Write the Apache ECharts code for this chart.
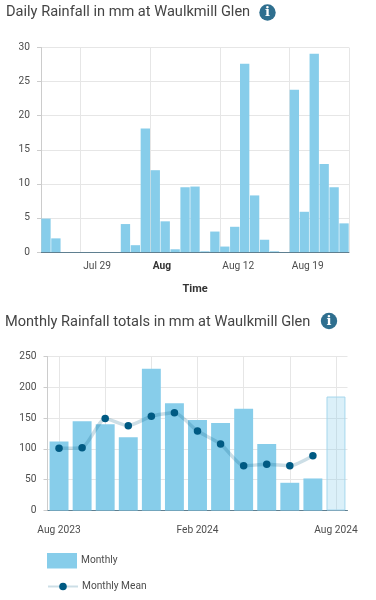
<!DOCTYPE html>
<html>
<head>
<meta charset="utf-8">
<style>
  html, body { margin: 0; padding: 0; background: #fff; }
  #main { width: 376px; height: 600px; }
</style>
<script src="https://cdn.jsdelivr.net/npm/echarts@6/dist/echarts.min.js"></script>
</head>
<body>
<div id="main"></div>
<script>
  const days = ['Jul 25','Jul 26','Jul 27','Jul 28','Jul 29','Jul 30','Jul 31','Aug 1','Aug 2','Aug 3','Aug 4',
    'Aug 5','Aug 6','Aug 7','Aug 8','Aug 9','Aug 10','Aug 11','Aug 12','Aug 13','Aug 14','Aug 15','Aug 16',
    'Aug 17','Aug 18','Aug 19','Aug 20','Aug 21','Aug 22','Aug 23','Aug 24'];
  const dailyValues = [4.9,2.0,0,0,0,0,0,0,4.1,1.0,18.1,12.0,4.5,0.4,9.5,9.6,0.1,3.0,0.8,3.7,27.6,8.3,1.8,0.1,0,
    23.8,5.9,29.1,12.9,9.5,4.2];
  const dailyTicks = {'Jul 29':'Jul 29','Aug 5':'{b|Aug}','Aug 12':'Aug 12','Aug 19':'Aug 19'};

  const months = ['Aug 2023','Sep 2023','Oct 2023','Nov 2023','Dec 2023','Jan 2024','Feb 2024','Mar 2024',
    'Apr 2024','May 2024','Jun 2024','Jul 2024','Aug 2024'];
  const monthlyValues = [112,145,140,119,230,174,147,142,165,108,45,52,185];
  const monthlyMean = [101,102,149.5,137.5,153,158.5,129,108,72.5,75,72.5,89,null];
  const monthlyTicks = ['Aug 2023','Feb 2024','Aug 2024'];
  const monthGridPositions = [0,2,4,6,8,10,12];

  const font = 'Roboto';
  const labelSize = 10.2;
  const textColor = '#4d4d4d';
  const gridColor = '#e6e6e6';
  const baseColor = '#5f7f90';
  const barColor = '#87cdea';

  function infoIcon(cx, cy) {
    return [
      {type: 'circle', shape: {cx: cx, cy: cy, r: 8.2}, style: {fill: '#2f6f8f'}},
      {type: 'text', x: cx, y: cy + 0.5, style: {text: 'i', fill: '#fff', font: 'bold 13px "DejaVu Serif"', align: 'center', verticalAlign: 'middle'}}
    ];
  }

  let myChart = echarts.init(document.getElementById('main'));
  myChart.setOption({
    animation: false,
    backgroundColor: '#fff',
    title: [
      {text: 'Daily Rainfall in mm at Waulkmill Glen', left: 6, top: 5, padding: 0, textStyle: {fontFamily: font, fontSize: 14.6, fontWeight: 'normal', color: '#444'}},
      {text: 'Monthly Rainfall totals in mm at Waulkmill Glen', left: 5, top: 314.5, padding: 0, textStyle: {fontFamily: font, fontSize: 14.6, fontWeight: 'normal', color: '#444'}}
    ],
    graphic: infoIcon(267.5, 12.5).concat(infoIcon(329, 321)),
    legend: [
      {
        orient: 'vertical', left: 47, top: 553, padding: 0,
        itemWidth: 30, itemHeight: 15.5, icon: 'rect',
        data: ['Monthly'],
        textStyle: {fontFamily: font, fontSize: labelSize, color: textColor, padding: [6, 0, 0, -1]}
      },
      {
        orient: 'vertical', left: 47, top: 581.5, padding: 0,
        itemWidth: 30, itemHeight: 9.5,
        data: ['Monthly Mean'],
        textStyle: {fontFamily: font, fontSize: labelSize, color: textColor, padding: [6, 0, 0, -1]}
      }
    ],
    grid: [
      {left: 41, right: 27, top: 47.5, height: 204.5},
      {left: 47.5, right: 28.5, top: 356.5, height: 154}
    ],
    xAxis: [
      {
        type: 'category', gridIndex: 0, data: days,
        name: 'Time', nameLocation: 'middle', nameGap: 32,
        nameTextStyle: {fontFamily: font, fontSize: 11, fontWeight: 'bold', color: '#333'},
        axisLine: {lineStyle: {color: baseColor}},
        axisTick: {length: 4, lineStyle: {color: '#aaa'}, interval: (i, v) => v in dailyTicks},
        splitLine: {show: true, lineStyle: {color: gridColor}, interval: (i, v) => v in dailyTicks},
        axisLabel: {
          margin: 9, fontFamily: font, fontSize: labelSize, color: textColor, align: 'left', padding: [0, 0, 0, -2.5],
          interval: (i, v) => v in dailyTicks,
          formatter: v => dailyTicks[v] || '',
          rich: {b: {fontFamily: font, fontSize: labelSize, fontWeight: 'bold', color: '#333'}}
        }
      },
      {
        type: 'category', gridIndex: 1, data: months,
        axisLine: {lineStyle: {color: baseColor}},
        axisTick: {alignWithLabel: true, length: 4, lineStyle: {color: '#aaa'}, interval: (i, v) => monthlyTicks.includes(v)},
        axisLabel: {
          margin: 15, fontFamily: font, fontSize: labelSize, color: textColor,
          interval: (i, v) => monthlyTicks.includes(v)
        }
      },
      {
        // only there for the vertical grid lines, which sit on the month centres
        type: 'value', gridIndex: 1, min: -0.5, max: 12.5, position: 'bottom',
        axisLine: {show: false},
        axisLabel: {show: false},
        axisTick: {show: false, customValues: monthGridPositions},
        splitLine: {show: true, lineStyle: {color: gridColor}}
      }
    ],
    yAxis: [
      {
        type: 'value', gridIndex: 0, min: 0, max: 30, interval: 5,
        axisLine: {show: true, onZero: false, lineStyle: {color: '#ccc'}},
        axisTick: {show: true, length: 4, lineStyle: {color: '#ccc'}},
        axisLabel: {margin: 11, fontFamily: font, fontSize: labelSize, color: textColor},
        splitLine: {lineStyle: {color: gridColor}}
      },
      {
        type: 'value', gridIndex: 1, min: 0, max: 250, interval: 50,
        axisLine: {show: true, onZero: false, lineStyle: {color: '#ccc'}},
        axisTick: {show: true, length: 4, lineStyle: {color: '#ccc'}},
        axisLabel: {margin: 11, fontFamily: font, fontSize: labelSize, color: textColor},
        splitLine: {lineStyle: {color: gridColor}}
      }
    ],
    series: [
      {
        name: 'Daily', type: 'bar', xAxisIndex: 0, yAxisIndex: 0,
        data: dailyValues, barCategoryGap: '6%',
        itemStyle: {color: barColor}
      },
      {
        name: 'Monthly', type: 'bar', xAxisIndex: 1, yAxisIndex: 1,
        data: monthlyValues.map((v, i) => i === monthlyValues.length - 1 ? {
          value: v,
          itemStyle: {color: 'rgba(135,205,234,0.3)', borderColor: '#a5d6ec', borderWidth: 1}
        } : v),
        barCategoryGap: '18%',
        itemStyle: {color: barColor}
      },
      {
        name: 'Monthly Mean', type: 'line', xAxisIndex: 1, yAxisIndex: 1,
        data: monthlyMean, smooth: 0.2, symbol: 'circle', symbolSize: 7.5,
        lineStyle: {width: 3.5, color: 'rgba(0,90,131,0.2)'},
        itemStyle: {color: '#005a83'}
      }
    ]
  });
</script>
</body>
</html>
